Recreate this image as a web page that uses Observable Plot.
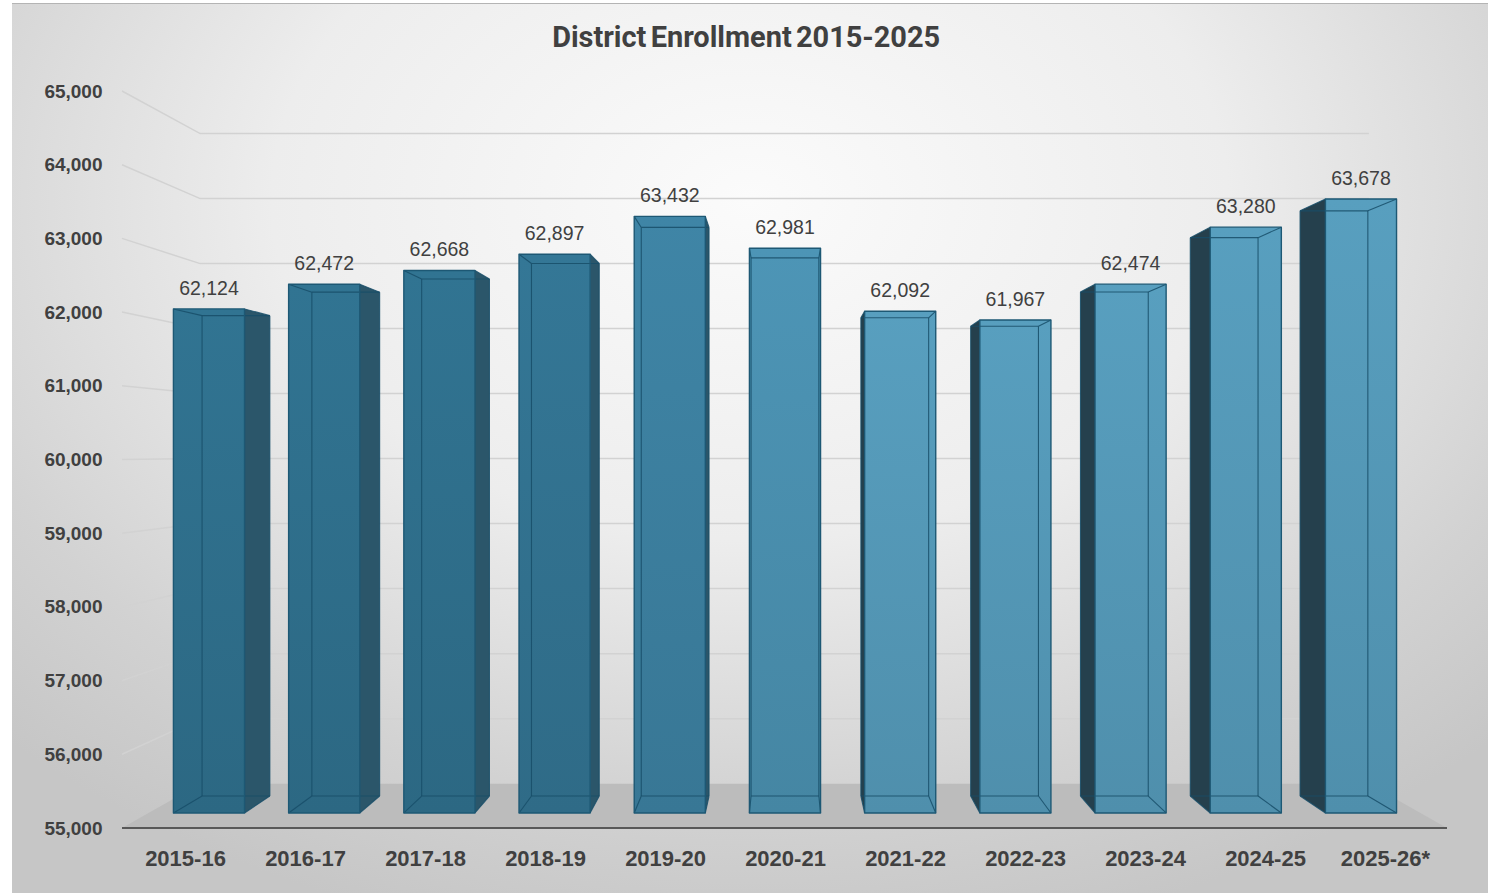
<!DOCTYPE html>
<html>
<head>
<meta charset="utf-8">
<script src="https://cdn.jsdelivr.net/npm/d3@7"></script>
<script src="https://cdn.jsdelivr.net/npm/@observablehq/plot@0.6"></script>
<style>
  html, body { margin: 0; padding: 0; background: #ffffff; width: 1493px; height: 893px; overflow: hidden; }
  #bg { position: absolute; left: 12px; top: 3px; width: 1476px; height: 890px;
        background: radial-gradient(ellipse 72% 85% at 50% 22%, #fbfbfb 0%, #ededed 45%, #d2d2d2 80%, #c6c6c6 100%);
        border-top: 1px solid #b4b4b4; }
  #chart { position: absolute; left: 0; top: 0; }
  #title { position: absolute; left: 0; top: 22px; width: 1493px; text-align: center; }
  #tt { display: inline-block; font-family: "Roboto", "Liberation Sans", sans-serif; font-weight: 700;
        font-size: 30px; line-height: 30px; color: #404040; word-spacing: -3px; transform-origin: 50% 50%; white-space: nowrap; }
</style>
</head>
<body>
<div id="bg"></div>
<div id="chart"></div>
<div id="title"><span id="tt">District Enrollment 2015-2025</span></div>
<script>
// ---- data ----
const years = ["2015-16", "2016-17", "2017-18", "2018-19", "2019-20", "2020-21",
               "2021-22", "2022-23", "2023-24", "2024-25", "2025-26*"];
const enrollment = [62124, 62472, 62668, 62897, 63432, 62981, 62092, 61967, 62474, 63280, 63678];
const yTicks = [55000, 56000, 57000, 58000, 59000, 60000, 61000, 62000, 63000, 64000, 65000];
const rows = years.map((year, i) => ({year, value: enrollment[i]}));

// ---- 3D look (perspective toward a vanishing point) ----
const VPY = 452;          // vanishing point height
const S_FRONT = 0.96;     // depth factor of bar front faces
const S_BACK = 0.915;     // depth factor of bar back faces
const S_WALL = 0.882;     // depth factor of the back wall
const fmt = d3.format(",");

function frame(dims) {
  const left = dims.marginLeft, right = dims.width - dims.marginRight;
  return {left, right, vpx: (left + right) / 2};
}

function walls(index, scales, values, dims) {
  const {x, y} = scales;
  const {left, right, vpx} = frame(dims);
  const proj = (px, py, s) => [vpx + (px - vpx) * s, VPY + (py - VPY) * s];
  const g = d3.create("svg:g");
  const y0 = y(yTicks[0]);
  const floor = [proj(left, y0, 1), proj(right, y0, 1), proj(right, y0, S_WALL), proj(left, y0, S_WALL)];
  g.append("path").attr("d", "M" + floor.join("L") + "Z").attr("fill", "#bcbcbc");
  for (const t of yTicks.slice(1)) {
    const a = proj(left, y(t), 1), b = proj(left, y(t), S_WALL), c = proj(right, y(t), S_WALL);
    g.append("path").attr("d", `M${a}L${b}L${c}`).attr("fill", "none")
      .attr("stroke", "#d2d2d2").attr("stroke-width", 1.5);
  }
  g.append("line").attr("x1", left).attr("x2", right).attr("y1", y0).attr("y2", y0)
    .attr("stroke", "#585858").attr("stroke-width", 2);
  return g.node();
}

const frontColor = d3.scaleLinear()
  .domain([-260, -110, 0, 120])
  .range(["#2f6f8c", "#3c80a0", "#4a8fae", "#5498b7"])
  .clamp(true);

function bars(index, scales, values, dims) {
  const {x, y} = scales;
  const {left, right, vpx} = frame(dims);
  const proj = (px, py, s) => [vpx + (px - vpx) * s, VPY + (py - VPY) * s];
  const step = (right - left) / years.length;
  const bw = x.bandwidth ? x.bandwidth() : step;
  const barW = bw / 1.62;            // gap width ~60%
  const y0 = y(yTicks[0]);
  const g = d3.create("svg:g");
  const defs = g.append("defs");
  const poly = (pts, fill, stroke, sw) => g.append("path").attr("d", "M" + pts.join("L") + "Z")
    .attr("fill", fill).attr("stroke", stroke || "none").attr("stroke-width", sw || 0)
    .attr("stroke-linejoin", "round");
  const seg = (a, b, stroke, sw) => g.append("line").attr("x1", a[0]).attr("y1", a[1])
    .attr("x2", b[0]).attr("y2", b[1]).attr("stroke", stroke).attr("stroke-width", sw);

  rows.forEach((d, i) => {
    const xc = x(d.year) + bw / 2;
    const xl = xc - barW / 2, xr = xc + barW / 2, yt = y(d.value);
    const FLT = proj(xl, yt, S_FRONT), FRT = proj(xr, yt, S_FRONT);
    const FLB = proj(xl, y0, S_FRONT), FRB = proj(xr, y0, S_FRONT);
    const BLT = proj(xl, yt, S_BACK), BRT = proj(xr, yt, S_BACK);
    const BLB = proj(xl, y0, S_BACK), BRB = proj(xr, y0, S_BACK);
    const fcx = (FLT[0] + FRT[0]) / 2;
    const base = d3.color(frontColor(fcx - vpx));
    const id = "barGrad" + i;
    const lg = defs.append("linearGradient").attr("id", id)
      .attr("x1", 0).attr("y1", 0).attr("x2", 0).attr("y2", 1);
    lg.append("stop").attr("offset", 0).attr("stop-color", base.brighter(0.12).formatHex());
    lg.append("stop").attr("offset", 1).attr("stop-color", base.darker(0.18).formatHex());

    if (fcx < vpx - 0.5) poly([FRT, BRT, BRB, FRB], "#2b566a");
    else if (fcx > vpx + 0.5) poly([FLT, BLT, BLB, FLB], "#25404d");
    poly([FLT, FRT, FRB, FLB], `url(#${id})`);

    const edge = "rgba(24,78,104,0.85)";
    [[BLT, BRT], [BRT, BRB], [BRB, BLB], [BLB, BLT],
     [FLT, BLT], [FRT, BRT], [FLB, BLB], [FRB, BRB]].forEach(([a, b]) => seg(a, b, edge, 1.1));
    poly([FLT, FRT, FRB, FLB], "none", "#1d5874", 1.4);

    g.append("text")
      .attr("x", fcx).attr("y", Math.min(FLT[1], BLT[1]) - 14)
      .attr("text-anchor", "middle")
      .attr("font-size", 19.5)
      .attr("fill", "#404040")
      .text(fmt(d.value));
  });
  return g.node();
}

const chart = Plot.plot({
  width: 1493,
  height: 893,
  marginLeft: 122,
  marginRight: 46,
  marginTop: 91,
  marginBottom: 65,
  style: {background: "transparent", fontFamily: "'Liberation Sans', Arial, sans-serif", overflow: "visible"},
  x: {type: "band", domain: years, padding: 0},
  y: {domain: [yTicks[0], yTicks[yTicks.length - 1]]},
  marks: [
    walls,
    bars,
    Plot.axisY(yTicks, {tickSize: 0, tickPadding: 20, fontSize: 19, fontWeight: "bold",
                        color: "#404040", tickFormat: fmt, label: null}),
    Plot.axisX(years, {tickSize: 0, tickPadding: 22, fontSize: 22, fontWeight: "bold",
                       color: "#404040", label: null})
  ]
});
document.getElementById("chart").appendChild(chart);

function fitTitle() {
  const tt = document.getElementById("tt");
  tt.style.transform = "none";
  const w = tt.getBoundingClientRect().width;
  if (w > 0) tt.style.transform = `scaleX(${388 / w})`;
}
fitTitle();
if (document.fonts && document.fonts.ready) document.fonts.ready.then(fitTitle);
</script>
</body>
</html>
